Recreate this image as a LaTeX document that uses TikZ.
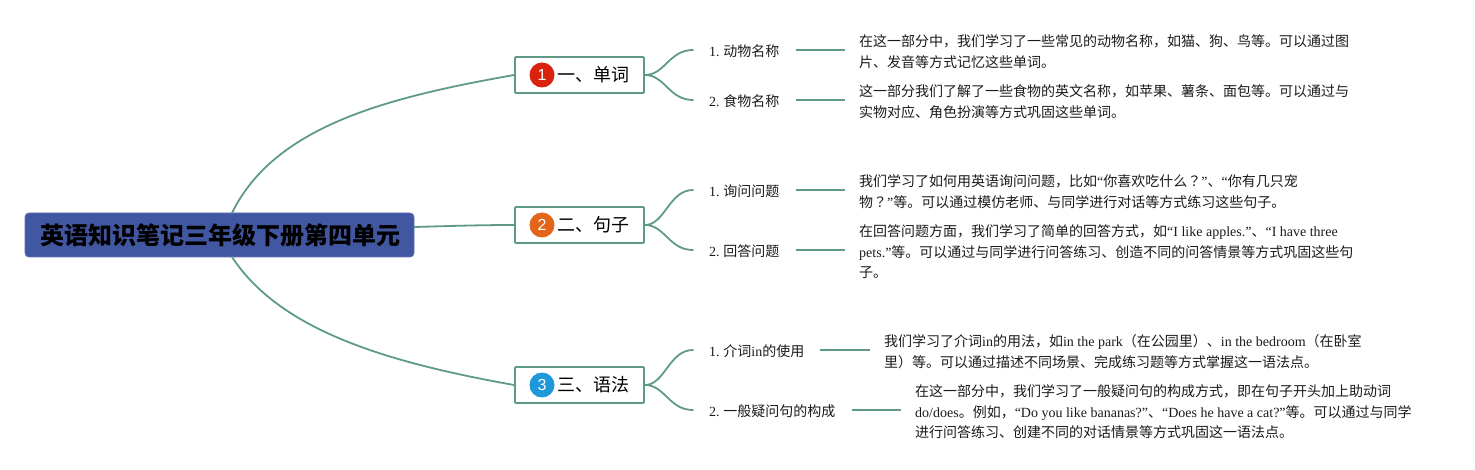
\documentclass[tikz,border=0pt]{standalone}
\usepackage{fontspec}
\usetikzlibrary{calc}
\setmainfont{Noto Sans CJK SC}
\newfontfamily\latfont{Liberation Serif}
\newfontfamily\badgefont{Liberation Sans}
\newfontfamily\tcfont{Noto Sans CJK TC}
\newcommand{\lat}[1]{{\latfont #1}}
\newcommand{\fq}{{\tcfont ？}}
\newcommand{\nm}[1]{\lat{#1. }\hspace{-1pt}}
\definecolor{linec}{HTML}{5F9A87}
\definecolor{rootc}{HTML}{4257A1}
\definecolor{rootl}{HTML}{5C70B5}
\definecolor{txt}{HTML}{1A1A1A}
\tikzset{
  rootbox/.style={draw=rootl,fill=rootc,rounded corners=4pt,line width=0.8pt,minimum width=389pt,minimum height=44pt,inner sep=0pt,font=\fontsize{24}{28}\selectfont\bfseries,text=black},
  topicbox/.style={draw=linec,fill=white,rounded corners=1pt,line width=1.8pt,minimum width=129pt,minimum height=36pt,inner xsep=0pt,inner ysep=0pt,font=\fontsize{18}{22}\selectfont,text=black},
  badge/.style={circle,minimum size=25pt,inner sep=0pt,text=white,font=\badgefont\fontsize{16}{18}\selectfont},
  sublabel/.style={anchor=west,inner xsep=16pt,inner ysep=0pt,text height=14.6pt,text depth=2pt,font=\fontsize{14}{18}\selectfont,text=txt},
  para/.style={anchor=west,inner xsep=14pt,inner ysep=0pt,align=left,font=\fontsize{14}{21}\selectfont,text=txt},
  parathree/.style={para,font=\fontsize{14}{20.5}\selectfont},
  wire/.style={draw=linec,line width=1.8pt,line cap=round},
  lvl/.style={draw=linec,line width=1.9pt}
}
\begin{document}
\begin{tikzpicture}[x=1pt,y=-1pt]
\useasboundingbox (0,0) rectangle (1475,470);
% root connector ends
\coordinate (rootup) at (232,213);
\coordinate (rootdown) at (232,257);
% topics
\node[topicbox] (t1) at (579.5,75) {\hspace*{27pt}一、单词};
\node[topicbox] (t2) at (579.5,225) {\hspace*{27pt}二、句子};
\node[topicbox] (t3) at (579.5,385) {\hspace*{27pt}三、语法};
\node[badge,fill={rgb,255:red,217;green,35;blue,15}] (b1) at (542,75) {1};
\node[badge,fill={rgb,255:red,226;green,101;blue,26}] (b2) at (542,225) {2};
\node[badge,fill={rgb,255:red,30;green,152;blue,216}] (b3) at (542,385) {3};
% root
\node[rootbox] (root) at (219.5,235) {\hspace*{2pt}英语知识笔记三年级下册第四单元};
% root connectors
\draw[wire] (rootup) .. controls (275,125) and (390,97) .. (t1.west);
\draw[wire] (root.east |- 0,227) .. controls (450,226) and (480,225) .. (t2.west);
\draw[wire] (rootdown) .. controls (280,330) and (385,362) .. (t3.west);
% sub labels
\node[sublabel] (s11) at (693,50) {\nm{1}动物名称};
\node[sublabel] (s12) at (693,100) {\nm{2}食物名称};
\node[sublabel] (s21) at (693,190) {\nm{1}询问问题};
\node[sublabel] (s22) at (693,250) {\nm{2}回答问题};
\node[sublabel] (s31) at (693,350) {\nm{1}介词\lat{in}的使用};
\node[sublabel] (s32) at (693,410) {\nm{2}一般疑问句的构成};
% branch curves
\foreach \t/\s in {t1/s11,t1/s12,t2/s21,t2/s22,t3/s31,t3/s32}{
  \draw[wire] (\t.east) .. controls ($(\t.east)+(20,0)$) and ($(\s.west)+(-24,0)$) .. (\s.west);
}
% paragraphs
\node[para] (p11) at (845,51.5) {在这一部分中，我们学习了一些常见的动物名称，如猫、狗、鸟等。可以通过图\\片、发音等方式记忆这些单词。};
\node[para] (p12) at (845,101.5) {这一部分我们了解了一些食物的英文名称，如苹果、薯条、面包等。可以通过与\\实物对应、角色扮演等方式巩固这些单词。};
\node[para] (p21) at (845,191.5) {我们学习了如何用英语询问问题，比如\lat{“}你喜欢吃什么\fq\lat{”}、\lat{“}你有几只宠\\物\fq\lat{”}等。可以通过模仿老师、与同学进行对话等方式练习这些句子。};
\node[parathree] (p22) at (845,251.8) {在回答问题方面，我们学习了简单的回答方式，如\lat{“I like apples.”}、\lat{“I have three}\\\lat{pets.”}等。可以通过与同学进行问答练习、创造不同的问答情景等方式巩固这些句\\子。};
\node[para] (p31) at (870,351.5) {我们学习了介词\lat{in}的用法，如\lat{in the park}（在公园里）、\lat{in the bedroom}（在卧室\\里）等。可以通过描述不同场景、完成练习题等方式掌握这一语法点。};
\node[parathree] (p32) at (901,411.8) {在这一部分中，我们学习了一般疑问句的构成方式，即在句子开头加上助动词\\\lat{do/does}。例如，\lat{“Do you like bananas?”}、\lat{“Does he have a cat?”}等。可以通过与同学\\进行问答练习、创建不同的对话情景等方式巩固这一语法点。};
% level connectors
\foreach \s/\p in {s11/p11,s12/p12,s21/p21,s22/p22,s31/p31,s32/p32}{
  \draw[lvl] (\s.east) -- (\s.east -| \p.west);
}
\end{tikzpicture}
\end{document}
